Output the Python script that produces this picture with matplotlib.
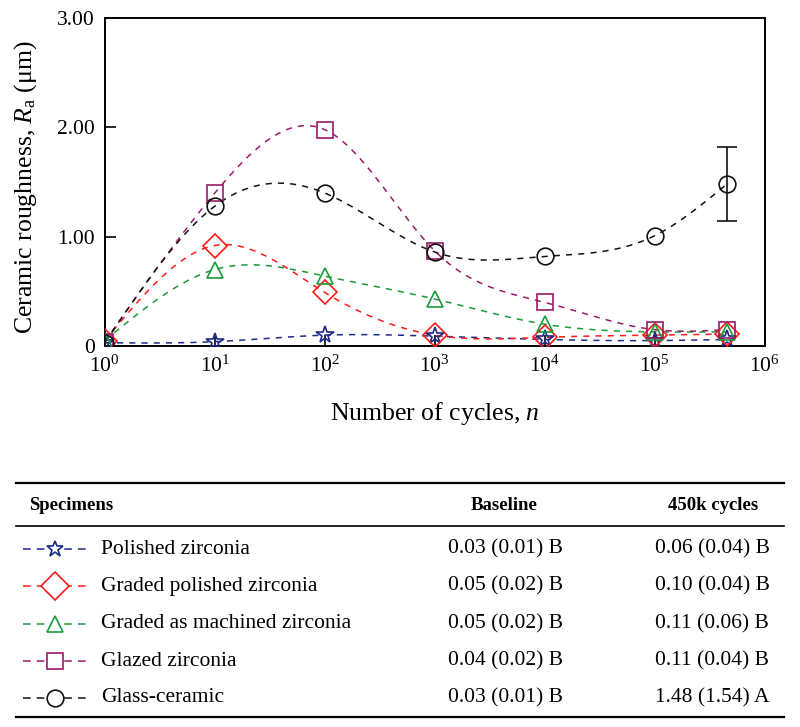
import numpy as np
import matplotlib
matplotlib.use("Agg")
import matplotlib.pyplot as plt

plt.rcParams['font.family'] = ['Liberation Serif', 'DejaVu Serif']
plt.rcParams['mathtext.fontset'] = 'custom'
plt.rcParams['mathtext.rm'] = 'Liberation Serif'
plt.rcParams['mathtext.it'] = 'Liberation Serif:italic'

# ---- data ----
cycles = [1, 10, 100, 1000, 10000, 100000, 450000]
names = ["Polished zirconia", "Graded polished zirconia",
         "Graded as machined zirconia", "Glazed zirconia", "Glass-ceramic"]
polished = [0.03, 0.04, 0.10, 0.09, 0.06, 0.05, 0.06]
graded_polished = [0.05, 0.92, 0.49, 0.10, 0.08, 0.10, 0.11]
graded_machined = [0.05, 0.70, 0.64, 0.43, 0.20, 0.13, 0.13]
glazed = [0.04, 1.40, 1.98, 0.87, 0.40, 0.15, 0.15]
glass_ceramic = [0.03, 1.28, 1.40, 0.86, 0.82, 1.01, 1.48]
glass_err_last = 0.34
baseline_txt = ["0.03 (0.01) B", "0.05 (0.02) B", "0.05 (0.02) B",
                "0.04 (0.02) B", "0.03 (0.01) B"]
final_txt = ["0.06 (0.04) B", "0.10 (0.04) B", "0.11 (0.06) B",
             "0.11 (0.04) B", "1.48 (1.54) A"]
yticks = [0, 1.0, 2.0, 3.0]
ytick_labels = ["0", "1.00", "2.00", "3.00"]

series = [polished, graded_polished, graded_machined, glazed, glass_ceramic]
colors = ["#1c2a8a", "#ff1a1a", "#1a9a3a", "#9a1a66", "#111111"]
markers = ["*", "D", "^", "s", "o"]
msizes = [13, 12, 12, 12, 12]
leg_msizes = [12, 14, 12, 12, 12]


def natural_spline(x, y, xs):
    x = np.asarray(x, float); y = np.asarray(y, float)
    n = len(x)
    h = np.diff(x)
    A = np.zeros((n, n)); b = np.zeros(n)
    A[0, 0] = 1; A[-1, -1] = 1
    for i in range(1, n - 1):
        A[i, i - 1] = h[i - 1]
        A[i, i] = 2 * (h[i - 1] + h[i])
        A[i, i + 1] = h[i]
        b[i] = 3 * ((y[i + 1] - y[i]) / h[i] - (y[i] - y[i - 1]) / h[i - 1])
    c = np.linalg.solve(A, b)
    out = np.empty_like(xs)
    for k, xv in enumerate(xs):
        i = min(max(np.searchsorted(x, xv) - 1, 0), n - 2)
        bi = (y[i + 1] - y[i]) / h[i] - h[i] * (2 * c[i] + c[i + 1]) / 3
        di = (c[i + 1] - c[i]) / (3 * h[i])
        t = xv - x[i]
        out[k] = y[i] + bi * t + c[i] * t ** 2 + di * t ** 3
    return out


fig = plt.figure(figsize=(8, 7.27), dpi=100)
ax = fig.add_axes([0.131, 0.524, 0.825, 0.451])

lx = np.log10(cycles)
xs = np.linspace(lx[0], lx[-1], 400)
for ys, col, mk, ms in zip(series, colors, markers, msizes):
    sm = natural_spline(lx, ys, xs)
    ax.plot(10 ** xs, sm, ls=(0, (4, 4)), color=col, lw=1.1, zorder=2)
    ax.plot(cycles, ys, ls='none', marker=mk, ms=ms, mfc='none', mec=col,
            mew=1.2, zorder=3)

ax.errorbar([cycles[-1]], [glass_ceramic[-1]], yerr=[glass_err_last],
            fmt='none', ecolor='#111111', elinewidth=1.2, capsize=7, capthick=1.2)

ax.set_xscale('log')
ax.set_xlim(1, 1e6)
ax.set_ylim(0, 3)
ax.set_yticks(yticks)
ax.set_yticklabels(ytick_labels)
ax.set_xticks([10 ** i for i in range(7)])
ax.set_xticklabels([r"$\mathregular{10^{%d}}$" % i for i in range(7)])
ax.minorticks_off()
ax.tick_params(direction='in', length=8, width=1.2, labelsize=15.5, pad=7)
for s in ax.spines.values():
    s.set_linewidth(1.4)
ax.set_xlabel(r"Number of cycles, $n$", fontsize=18.5)
ax.xaxis.set_label_coords(0.5, -0.165)
ax.set_ylabel(r"Ceramic roughness, $R_\mathrm{a}$ (μm)", fontsize=18.5)
ax.yaxis.set_label_coords(-0.10, 0.485)

# ---- table ----
tax = fig.add_axes([0, 0, 1, 1], zorder=-1)
tax.set_xlim(0, 800); tax.set_ylim(727, 0); tax.axis('off')
tax.plot([16, 784], [483, 483], color='black', lw=1.6)
tax.plot([16, 784], [526, 526], color='black', lw=1.2)
tax.plot([16, 784], [717, 717], color='black', lw=1.6)
tax.text(29, 505, "Specimens", fontsize=13.5, fontweight='bold', va='center')
tax.text(504, 505, "Baseline", fontsize=13.5, fontweight='bold', va='center', ha='center')
tax.text(713, 505, "450k cycles", fontsize=13.5, fontweight='bold', va='center', ha='center')
row_y = [549, 586, 624, 661, 698]
for i, (nm, col, mk, ms) in enumerate(zip(names, colors, markers, leg_msizes)):
    y = row_y[i]
    tax.plot([23, 89], [y, y], color=col, ls=(0, (5, 4)), lw=1.1)
    tax.plot([55], [y], ls='none', marker=mk, ms=ms,
             mfc='white', mec=col, mew=1.2)
    tax.text(101, y, nm, fontsize=15.5, va='center')
    tax.text(505, y, baseline_txt[i], fontsize=15.5, va='center', ha='center')
    tax.text(712, y, final_txt[i], fontsize=15.5, va='center', ha='center')

fig.savefig("out.png", dpi=100)
